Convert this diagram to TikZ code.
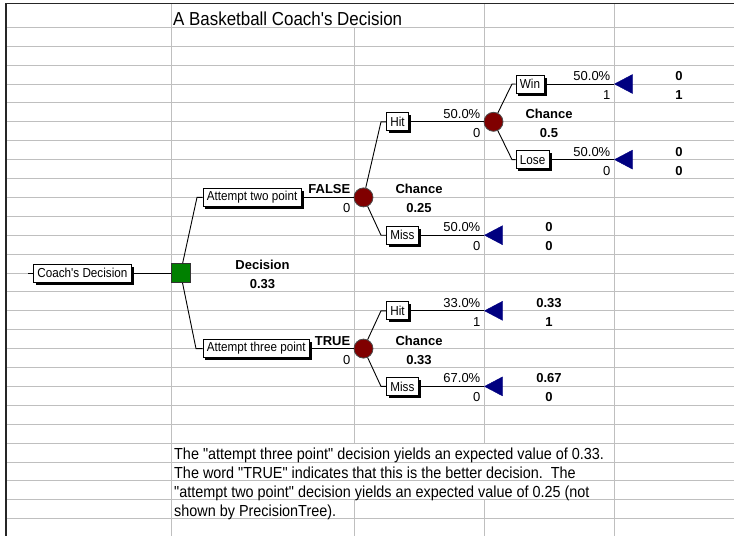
\documentclass[tikz,border=0pt]{standalone}
\usepackage{fontspec}
\newfontfamily\cellfont{Liberation Sans}
\newfontfamily\narrowfont{Liberation Sans}[FakeStretch=0.9]
\usetikzlibrary{shapes.geometric,shadows}
\definecolor{decgreen}{RGB}{0,128,0}
\definecolor{chancered}{RGB}{128,0,0}
\definecolor{endblue}{RGB}{0,0,128}

\begin{document}
\begin{tikzpicture}[
    x=1pt, y=-1pt,
    grid/.style={draw=black!25, line width=1pt},
    frame/.style={draw=black!85, line width=1.6pt},
    branch/.style={draw=black, line width=0.9pt},
    box/.style={rectangle, draw=black, line width=0.8pt, fill=white, minimum height=18pt, inner xsep=4pt, inner ysep=0pt, anchor=west, font=\narrowfont\fontsize{13}{14}\selectfont, drop shadow={shadow xshift=2.5pt, shadow yshift=-2.5pt, fill=black, opacity=1}},
    decnode/.style={rectangle, draw=black!80, line width=0.8pt, fill=decgreen, minimum size=19pt, inner sep=0pt},
    chancenode/.style={circle, draw=black!70, line width=0.8pt, fill=chancered, minimum size=19pt, inner sep=0pt},
    endnode/.style={isosceles triangle, shape border rotate=180, isosceles triangle stretches, fill=endblue, draw=endblue, minimum width=19pt, minimum height=18pt, inner sep=0pt, anchor=apex},
    pct/.style={anchor=base east, inner sep=0pt, font=\cellfont\fontsize{13}{14}\selectfont},
    val/.style={anchor=base, inner sep=0pt, font=\cellfont\bfseries\fontsize{13}{14}\selectfont},
    note/.style={anchor=base west, inner sep=0pt, font=\narrowfont\fontsize{16}{18}\selectfont}
]
\useasboundingbox (0,0) rectangle (734,536);

% Sheet grid
\foreach \k in {0,...,26}
    \draw[grid] (6,27.3+18.9*\k) -- (734,27.3+18.9*\k);
\draw[grid] (171,3.5) -- (171,536);
\draw[grid] (354,27.3) -- (354,443.1) (354,499.8) -- (354,536);
\draw[grid] (484,3.5) -- (484,443.1) (484,499.8) -- (484,536);
\draw[grid] (614,3.5) -- (614,536);
\draw[frame] (734,3.5) -- (6,3.5) -- (6,536);

% Title
\node[note, font=\narrowfont\fontsize{18.8}{20}\selectfont] (title) at (173,25.8) {A Basketball Coach's Decision};

% Root and decision
\coordinate (stub) at (28,273);
\node[box] (root) at (33,273) {Coach's Decision};
\node[decnode] (dec) at (180.5,273) {};
\node[val] (declab) at (262.5,269.5) {Decision};
\node[val] (decval) at (262.5,288.4) {0.33};

% Attempt two point
\coordinate (k2) at (197,197.4);
\node[box] (two) at (202.5,197.4) {Attempt two point};
\node[val, anchor=base east] (twoflag) at (350.5,193.9) {FALSE};
\node[pct] (twoval) at (350.5,212.8) {0};
\node[chancenode] (c1) at (363.5,197.4) {};
\node[val] (c1lab) at (419,193.9) {Chance};
\node[val] (c1val) at (419,212.8) {0.25};

% Hit (two point)
\coordinate (k11) at (381,121.8);
\node[box] (hit1) at (386,121.8) {Hit};
\node[pct] (hit1p) at (480.5,118.3) {50.0\%};
\node[pct] (hit1v) at (480.5,137.2) {0};
\node[chancenode] (c2) at (493.5,121.8) {};
\node[val] (c2lab) at (549,118.3) {Chance};
\node[val] (c2val) at (549,137.2) {0.5};

% Win / Lose
\coordinate (k21) at (512,84);
\node[box] (win) at (515.5,84) {Win};
\node[pct] (winp) at (610.5,80.5) {50.0\%};
\node[pct] (winv) at (610.5,99.4) {1};
\node[endnode] (t1) at (614,84) {};
\node[val] (t1a) at (679,80.5) {0};
\node[val] (t1b) at (679,99.4) {1};

\coordinate (k22) at (512,159.6);
\node[box] (lose) at (515.5,159.6) {Lose};
\node[pct] (losep) at (610.5,156.1) {50.0\%};
\node[pct] (losev) at (610.5,175) {0};
\node[endnode] (t2) at (614,159.6) {};
\node[val] (t2a) at (679,156.1) {0};
\node[val] (t2b) at (679,175) {0};

% Miss (two point)
\coordinate (k12) at (381,235.2);
\node[box] (miss1) at (386,235.2) {Miss};
\node[pct] (miss1p) at (480.5,231.7) {50.0\%};
\node[pct] (miss1v) at (480.5,250.6) {0};
\node[endnode] (t3) at (484,235.2) {};
\node[val] (t3a) at (549,231.7) {0};
\node[val] (t3b) at (549,250.6) {0};

% Attempt three point
\coordinate (k3) at (196,348.6);
\node[box] (three) at (202.5,348.6) {Attempt three point};
\node[val, anchor=base east] (threeflag) at (350.5,345.1) {TRUE};
\node[pct] (threeval) at (350.5,364) {0};
\node[chancenode] (c3) at (363.5,348.6) {};
\node[val] (c3lab) at (419,345.1) {Chance};
\node[val] (c3val) at (419,364) {0.33};

% Hit / Miss (three point)
\coordinate (k31) at (381,310.8);
\node[box] (hit2) at (386,310.8) {Hit};
\node[pct] (hit2p) at (480.5,307.3) {33.0\%};
\node[pct] (hit2v) at (480.5,326.2) {1};
\node[endnode] (t4) at (484,310.8) {};
\node[val] (t4a) at (549,307.3) {0.33};
\node[val] (t4b) at (549,326.2) {1};

\coordinate (k32) at (381,386.4);
\node[box] (miss2) at (386,386.4) {Miss};
\node[pct] (miss2p) at (480.5,382.9) {67.0\%};
\node[pct] (miss2v) at (480.5,401.8) {0};
\node[endnode] (t5) at (484,386.4) {};
\node[val] (t5a) at (549,382.9) {0.67};
\node[val] (t5b) at (549,401.8) {0};

% Branches
\draw[branch] (stub) -- (root.west);
\draw[branch] (root.east) -- (dec);
\draw[branch] (dec) -- (k2) -- (two.west);
\draw[branch] (dec) -- (k3) -- (three.west);
\draw[branch] (two.east) -- (c1);
\draw[branch] (three.east) -- (c3);
\draw[branch] (c1) -- (k11) -- (hit1.west);
\draw[branch] (c1) -- (k12) -- (miss1.west);
\draw[branch] (hit1.east) -- (c2);
\draw[branch] (miss1.east) -- (t3.apex);
\draw[branch] (c2) -- (k21) -- (win.west);
\draw[branch] (c2) -- (k22) -- (lose.west);
\draw[branch] (win.east) -- (t1.apex);
\draw[branch] (lose.east) -- (t2.apex);
\draw[branch] (c3) -- (k31) -- (hit2.west);
\draw[branch] (c3) -- (k32) -- (miss2.west);
\draw[branch] (hit2.east) -- (t4.apex);
\draw[branch] (miss2.east) -- (t5.apex);

% Note
\node[note] (note1) at (174,459) {The "attempt three point" decision yields an expected value of 0.33.};
\node[note] (note2) at (174,478) {The word "TRUE" indicates that this is the better decision.\ \ The};
\node[note] (note3) at (174,497) {"attempt two point" decision yields an expected value of 0.25 (not};
\node[note] (note4) at (174,516) {shown by PrecisionTree).};

\end{tikzpicture}
\end{document}
